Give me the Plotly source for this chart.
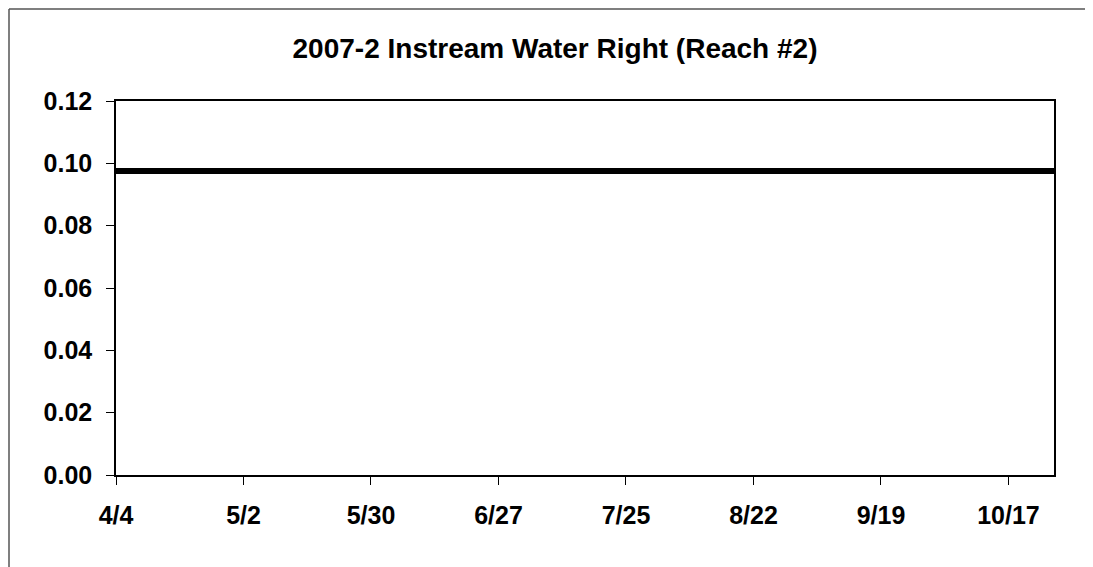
import plotly.graph_objects as go

# Data
dates = ["2007-04-04", "2007-10-27"]
flow = [0.0975, 0.0975]
x_tick_dates = ["2007-04-04", "2007-05-02", "2007-05-30", "2007-06-27",
                "2007-07-25", "2007-08-22", "2007-09-19", "2007-10-17"]
x_tick_labels = ["4/4", "5/2", "5/30", "6/27", "7/25", "8/22", "9/19", "10/17"]
y_ticks = [0.00, 0.02, 0.04, 0.06, 0.08, 0.10, 0.12]
title_text = "2007-2 Instream Water Right (Reach #2)"

OFF = 8  # default page body margin
W, H = 1093 - OFF, 567 - OFF
L, T = 116 - OFF, 101 - OFF
R = W - (1054 - OFF)
B = H - (475 - OFF)
pw, ph = W - L - R, H - T - B

fig = go.Figure()
fig.add_trace(go.Scatter(x=dates, y=flow, mode="lines",
                         line=dict(color="black", width=6), showlegend=False,
                         cliponaxis=False))

font_family = "Liberation Sans, Arial, sans-serif"

fig.update_layout(
    width=W, height=H,
    margin=dict(l=L, r=R, t=T, b=B),
    paper_bgcolor="white", plot_bgcolor="white",
    title=dict(text="<b>" + title_text + "</b>", x=(555 - OFF - L) / pw, xref="paper",
               xanchor="center", y=1 - (48 - OFF) / H, yanchor="middle",
               font=dict(family=font_family, size=28, color="black")),
    xaxis=dict(type="date", range=["2007-04-04", "2007-10-27"],
               tickvals=x_tick_dates, ticktext=["<b>%s</b>" % t for t in x_tick_labels],
               ticks="outside", ticklen=8, tickcolor="black", tickwidth=1,
               showline=True, linecolor="black", linewidth=1.5, mirror=True,
               showgrid=False, zeroline=False, ticklabelstandoff=9,
               tickfont=dict(family=font_family, size=25, color="black")),
    yaxis=dict(range=[0, 0.12], tickvals=y_ticks,
               ticktext=["<b>%.2f</b>" % v for v in y_ticks],
               ticks="outside", ticklen=8, tickcolor="black", tickwidth=1,
               showline=True, linecolor="black", linewidth=1.5, mirror=True,
               showgrid=False, zeroline=False, ticklabelstandoff=9,
               tickfont=dict(family=font_family, size=25, color="black")),
)

# outer chart frame (top and left edges visible), as close to the page corner as possible
x_left = (1 - L) / pw
y_top = (H - B - 1) / ph
fig.add_shape(type="line", xref="paper", yref="paper",
              x0=x_left, x1=(W + 10 - L) / pw, y0=y_top, y1=y_top,
              line=dict(color="#555555", width=1.5))
fig.add_shape(type="line", xref="paper", yref="paper",
              x0=x_left, x1=x_left, y0=y_top, y1=-(B + 10) / ph,
              line=dict(color="#555555", width=1.5))

fig.write_html("out.html")
